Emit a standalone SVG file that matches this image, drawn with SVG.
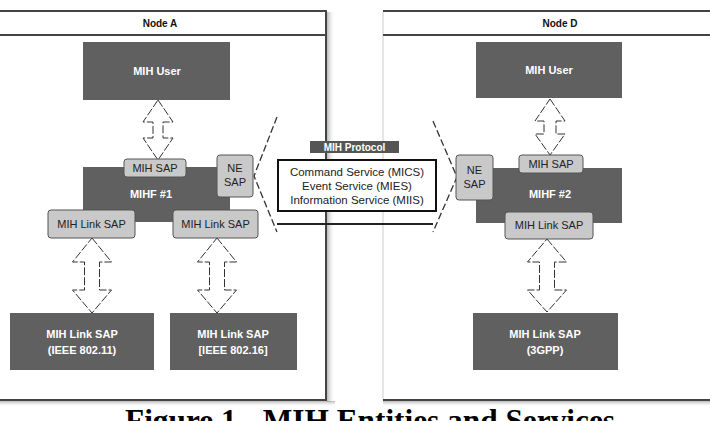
<svg xmlns="http://www.w3.org/2000/svg" width="710" height="421" viewBox="0 0 710 421">
<defs>
<linearGradient id="shR" x1="0" y1="0" x2="1" y2="0"><stop offset="0" stop-color="#888" stop-opacity="0.6"/><stop offset="1" stop-color="#fff" stop-opacity="0"/></linearGradient>
<linearGradient id="shB" x1="0" y1="0" x2="0" y2="1"><stop offset="0" stop-color="#888" stop-opacity="0.6"/><stop offset="1" stop-color="#fff" stop-opacity="0"/></linearGradient>
<style>
.frame{fill:none;stroke:#444;stroke-width:2}
.dark{fill:#606060}
.sap{fill:#c9c9c9;stroke:#555;stroke-width:1}
.wt{fill:#fff;font-family:"Liberation Sans",Arial,sans-serif;font-size:11px;font-weight:bold;text-anchor:middle}
.bt{fill:#222;font-family:"Liberation Sans",Arial,sans-serif;font-size:11px;text-anchor:middle}
.hd{fill:#111;font-family:"Liberation Sans",Arial,sans-serif;font-size:10px;font-weight:bold;text-anchor:middle}
.arr{fill:#fff;stroke:#333;stroke-width:1;stroke-dasharray:8 2}
.dash{fill:none;stroke:#333;stroke-width:1.3;stroke-dasharray:7 3}
</style>
</defs>
<rect width="710" height="421" fill="#fff"/>

<g id="nodeA-frame">
<rect x="327" y="12" width="8" height="390" fill="url(#shR)"/>
<rect x="0" y="401" width="335" height="6" fill="url(#shB)"/>
<path class="frame" d="M0 11 H326 V400 H0"/>
<line class="frame" x1="0" y1="35" x2="326" y2="35"/>
<text class="hd" x="160" y="27">Node A</text>
</g>

<g id="nodeD-frame">
<line x1="383" y1="12" x2="383" y2="400" stroke="#ccc" stroke-width="1"/>
<rect x="383" y="401" width="327" height="6" fill="url(#shB)"/>
<path class="frame" d="M710 11 H383 M383 400 H710"/>
<line class="frame" x1="383" y1="35" x2="710" y2="35"/>
<text class="hd" x="560" y="27">Node D</text>
</g>

<g id="connectors">
<polygon class="arr" points="158,100 173,122 163,122 163,138 173,138 158,160 143,138 153,138 153,122 143,122"/>
<polygon class="arr" points="550,99 565,121 556,121 556,134 565,134 550,155 535,134 544,134 544,121 535,121"/>
<polygon class="arr" points="92,238 111.5,262 99.5,262 99.5,290 111.5,290 92,313 72.5,290 84.5,290 84.5,262 72.5,262"/>
<polygon class="arr" points="217,238 236.5,262 224.5,262 224.5,290 236.5,290 217,313 197.5,290 209.5,290 209.5,262 197.5,262"/>
<polygon class="arr" points="547,239 566.5,262 554.5,262 554.5,290 566.5,290 547,312 527.5,290 539.5,290 539.5,262 527.5,262"/>
<polyline class="dash" points="277,117 254,176 277,232"/>
<polyline class="dash" points="433,121 457,177 433,232"/>
</g>

<g id="userA"><rect class="dark" x="83" y="42" width="147" height="58"/><text class="wt" x="157" y="75">MIH User</text></g>
<g id="mihfA"><rect class="dark" x="83" y="167" width="147" height="55"/><text class="wt" x="151" y="198">MIHF #1</text></g>
<g id="mihsapA"><rect class="sap" x="124" y="159" width="62" height="18" rx="3"/><text class="bt" x="155" y="172">MIH SAP</text></g>
<g id="nesapA"><rect class="sap" x="217" y="155" width="36" height="42" rx="3"/><text class="bt" x="235" y="172">NE</text><text class="bt" x="235" y="186">SAP</text></g>
<g id="linksapA1"><rect class="sap" x="48" y="210" width="87" height="28" rx="3"/><text class="bt" x="91.5" y="228">MIH Link SAP</text></g>
<g id="linksapA2"><rect class="sap" x="173" y="210" width="85" height="28" rx="3"/><text class="bt" x="215.5" y="228">MIH Link SAP</text></g>
<g id="linkA1"><rect class="dark" x="10" y="313" width="144" height="57"/><text class="wt" x="82" y="338">MIH Link SAP</text><text class="wt" x="82" y="354">(IEEE 802.11)</text></g>
<g id="linkA2"><rect class="dark" x="170" y="313" width="127" height="57"/><text class="wt" x="233" y="338">MIH Link SAP</text><text class="wt" x="233" y="354">[IEEE 802.16]</text></g>

<g id="protocol">
<rect x="310" y="141" width="89" height="12" fill="#555"/>
<text class="wt" x="354.5" y="151" style="font-size:10px">MIH Protocol</text>
<rect x="278" y="160" width="158" height="51" fill="#fff" stroke="#111" stroke-width="2"/>
<text class="bt" x="357" y="176" style="font-size:11.5px">Command Service (MICS)</text>
<text class="bt" x="357" y="190" style="font-size:11.5px">Event Service (MIES)</text>
<text class="bt" x="357" y="204" style="font-size:11.5px">Information Service (MIIS)</text>
<line x1="277" y1="224" x2="433" y2="224" stroke="#222" stroke-width="2"/>
</g>

<g id="userD"><rect class="dark" x="476" y="42" width="146" height="56"/><text class="wt" x="549" y="74">MIH User</text></g>
<g id="mihfD"><rect class="dark" x="476" y="168" width="146" height="55"/><text class="wt" x="550" y="198">MIHF #2</text></g>
<g id="mihsapD"><rect class="sap" x="519" y="155" width="64" height="18" rx="3"/><text class="bt" x="551" y="168">MIH SAP</text></g>
<g id="nesapD"><rect class="sap" x="456" y="155" width="37" height="45" rx="3"/><text class="bt" x="474.5" y="174">NE</text><text class="bt" x="474.5" y="188">SAP</text></g>
<g id="linksapD"><rect class="sap" x="505" y="212" width="88" height="27" rx="3"/><text class="bt" x="549" y="229">MIH Link SAP</text></g>
<g id="linkD"><rect class="dark" x="473" y="313" width="145" height="57"/><text class="wt" x="545" y="338">MIH Link SAP</text><text class="wt" x="545" y="354">(3GPP)</text></g>

<text x="125" y="431" font-family="'Liberation Serif','Times New Roman',serif" font-weight="bold" font-size="32" textLength="490" lengthAdjust="spacingAndGlyphs" fill="#000">Figure 1 - MIH Entities and Services</text>
</svg>
